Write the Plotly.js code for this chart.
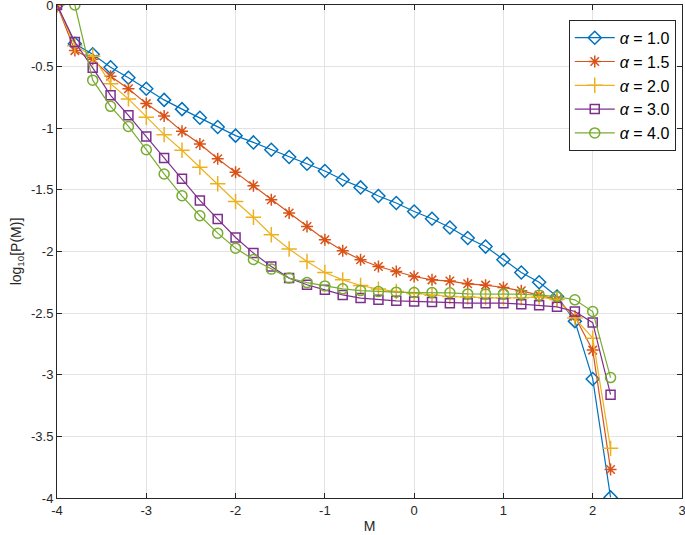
<!DOCTYPE html>
<html>
<head>
<meta charset="utf-8">
<script src="https://cdn.plot.ly/plotly-3.0.1.min.js"></script>
<style>
  html, body { margin: 0; padding: 0; background: #fff; }
  #chart { width: 685px; height: 535px; }
</style>
</head>
<body>
<div id="chart"></div>
<script>
// M grid (first four curves start at -4, alpha = 4.0 starts at -3.8)
const mAll = [-4, -3.8, -3.6, -3.4, -3.2, -3, -2.8, -2.6, -2.4, -2.2, -2, -1.8, -1.6, -1.4, -1.2, -1,
  -0.8, -0.6, -0.4, -0.2, 0, 0.2, 0.4, 0.6, 0.8, 1, 1.2, 1.4, 1.6, 1.8, 2, 2.2];
const mFrom38 = [-3.8, -3.6, -3.4, -3.2, -3, -2.8, -2.6, -2.4, -2.2, -2, -1.8, -1.6, -1.4, -1.2, -1,
  -0.8, -0.6, -0.4, -0.2, 0, 0.2, 0.4, 0.6, 0.8, 1, 1.2, 1.4, 1.6, 1.8, 2, 2.2];

// log10 P(M) for each alpha
const alpha10 = [0, -0.315, -0.40, -0.505, -0.59, -0.68, -0.77, -0.845, -0.915, -0.99, -1.06, -1.115,
  -1.174, -1.233, -1.288, -1.347, -1.418, -1.48, -1.55, -1.607, -1.675, -1.734, -1.805, -1.89, -1.96,
  -2.067, -2.17, -2.25, -2.365, -2.565, -3.034, -3.995];
const alpha15 = [0, -0.37, -0.44, -0.578, -0.68, -0.80, -0.90, -1.025, -1.128, -1.247, -1.358, -1.466,
  -1.58, -1.688, -1.797, -1.905, -1.994, -2.067, -2.122, -2.162, -2.203, -2.23, -2.24, -2.262, -2.273,
  -2.292, -2.319, -2.354, -2.39, -2.528, -2.80, -3.768];
const alpha20 = [0, -0.33, -0.416, -0.638, -0.762, -0.911, -1.052, -1.179, -1.317, -1.45, -1.594, -1.722,
  -1.864, -1.98, -2.081, -2.17, -2.23, -2.276, -2.305, -2.325, -2.34, -2.355, -2.365, -2.37, -2.375,
  -2.378, -2.375, -2.37, -2.39, -2.54, -2.703, -3.597];
const alpha30 = [0, -0.3, -0.51, -0.733, -0.895, -1.066, -1.241, -1.41, -1.586, -1.737, -1.886, -2.013,
  -2.122, -2.216, -2.27, -2.311, -2.352, -2.378, -2.392, -2.40, -2.405, -2.41, -2.419, -2.419, -2.419,
  -2.419, -2.427, -2.436, -2.449, -2.487, -2.577, -3.162];
const alpha40 = [0, -0.61, -0.822, -0.985, -1.174, -1.371, -1.548, -1.71, -1.851, -1.973, -2.065,
  -2.143, -2.216, -2.252, -2.279, -2.303, -2.317, -2.325, -2.33, -2.333, -2.333, -2.335, -2.344, -2.344,
  -2.344, -2.347, -2.354, -2.365, -2.392, -2.487, -3.023];

const seriesNames = ['<i>\u03b1</i> = 1.0', '<i>\u03b1</i> = 1.5', '<i>\u03b1</i> = 2.0',
  '<i>\u03b1</i> = 3.0', '<i>\u03b1</i> = 4.0'];

const xTicks = [-4, -3, -2, -1, 0, 1, 2, 3];
const xTickText = ['-4', '-3', '-2', '-1', '0', '1', '2', '3'];
const yTicks = [0, -0.5, -1, -1.5, -2, -2.5, -3, -3.5, -4];
const yTickText = ['0', '-0.5', '-1', '-1.5', '-2', '-2.5', '-3', '-3.5', '-4'];

const colors = ['#0072BD', '#D95319', '#EDB120', '#7E2F8E', '#77AC30'];
const symbols = ['diamond-open', 'asterisk-open', 'cross-thin-open', 'square-open', 'circle-open'];
const sizes = [10, 10, 11, 9, 10];
const xs = [mAll, mAll, mAll, mAll, mFrom38];
const ys = [alpha10, alpha15, alpha20, alpha30, alpha40];

const traces = ys.map((y, i) => ({
  x: xs[i],
  y: y,
  type: 'scatter',
  mode: 'lines+markers',
  name: seriesNames[i],
  line: { color: colors[i], width: 1.2 },
  marker: { symbol: symbols[i], size: sizes[i], color: colors[i], line: { color: colors[i], width: 1.5 } }
}));

const axisCommon = {
  showline: true,
  linecolor: '#262626',
  linewidth: 1,
  mirror: 'ticks',
  ticks: 'inside',
  ticklen: 5,
  tickcolor: '#262626',
  showgrid: true,
  gridcolor: '#e3e3e3',
  gridwidth: 1,
  zeroline: false,
  ticklabeloverflow: 'allow',
  tickfont: { family: 'Liberation Sans, Arial, sans-serif', size: 13, color: '#262626' }
};

const layout = {
  width: 685,
  height: 535,
  margin: { l: 57, r: 3, t: 5, b: 37 },
  paper_bgcolor: '#fff',
  plot_bgcolor: '#fff',
  showlegend: true,
  xaxis: Object.assign({}, axisCommon, {
    range: [-4, 3],
    tickvals: xTicks,
    ticktext: xTickText,
    title: { text: 'M', standoff: 4, font: { family: 'Liberation Sans, Arial, sans-serif', size: 14, color: '#262626' } }
  }),
  yaxis: Object.assign({}, axisCommon, {
    range: [-4, 0],
    tickvals: yTicks,
    ticktext: yTickText,
    title: { text: 'log<sub>10</sub>[P(M)]', standoff: 6, font: { family: 'Liberation Sans, Arial, sans-serif', size: 14, color: '#262626' } }
  }),
  legend: {
    x: 0.99, y: 0.97, xanchor: 'right', yanchor: 'top',
    bgcolor: '#fff',
    bordercolor: '#262626',
    borderwidth: 1,
    font: { family: 'Liberation Sans, Arial, sans-serif', size: 16, color: '#000' },
    tracegroupgap: 0,
    itemwidth: 40
  }
};

Plotly.newPlot('chart', traces, layout, { displayModeBar: false });
</script>
</body>
</html>
